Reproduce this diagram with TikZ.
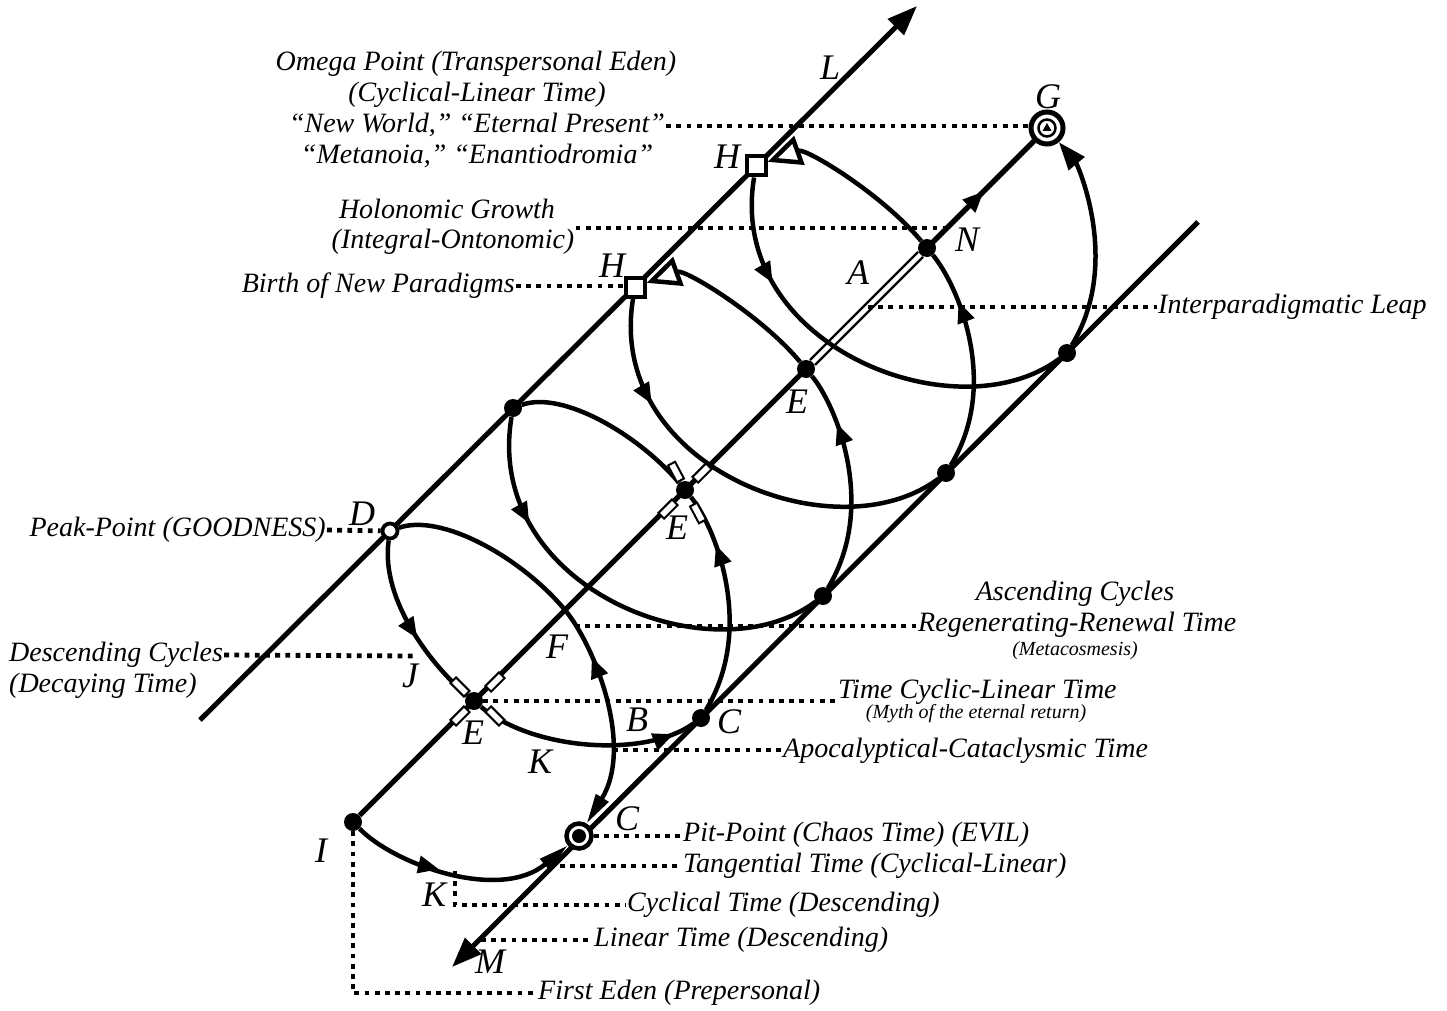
\documentclass[tikz,border=0pt]{standalone}
\usepackage{fontspec}
\setmainfont{Liberation Serif}
\usetikzlibrary{arrows.meta,calc,decorations.markings,backgrounds}

\tikzset{
  mainline/.style={line width=5pt},
  loopline/.style={line width=4.5pt},
  leader/.style={line width=4.8pt, dash pattern=on 4.8pt off 5.4pt},
  fdot/.style={circle, fill, inner sep=0pt, minimum size=18pt},
  opendot/.style={circle, draw, fill=white, line width=3.8pt, inner sep=0pt, minimum size=15pt},
  sqbox/.style={draw, fill=white, line width=4pt, inner sep=0pt, minimum size=19pt},
  bar/.style={draw, fill=white, line width=2pt, inner sep=0pt, minimum width=19pt, minimum height=8pt},
  flow/.style={postaction={decorate}, decoration={markings, mark=at position #1 with {\arrow{Triangle[length=21pt,width=17pt]}}}},
  letter/.style={font=\fontsize{36}{40}\selectfont\itshape, inner sep=0pt},
  lbl/.style={font=\fontsize{28}{31}\selectfont\itshape, text height=20pt, text depth=7pt, inner sep=1pt},
  sml/.style={font=\fontsize{20}{22}\selectfont\itshape, inner sep=1pt},
}

\begin{document}
\begin{tikzpicture}[x=1pt,y=-1pt]
\useasboundingbox (0,0) rectangle (1447,1011);

% Ends of the three lines
\coordinate (lbot) at (200,720);
\coordinate (ltop) at (917,6);
\coordinate (rtop) at (1198,222);
\coordinate (rbot) at (452,967);

% Middle line
\node[fdot] (i0) at (353,822) {};
\coordinate (m0) at (565,610);
\node[fdot] (e0) at (474,701) {};
\node[fdot] (m1) at (685,490) {};
\node[fdot] (m2) at (806,369) {};
\node[fdot] (m3) at (927,248) {};
\node[circle, draw, fill=white, line width=5pt, inner sep=0pt, minimum size=32pt] (m4) at (1047,128) {};
\node[circle, draw, line width=2.5pt, inner sep=0pt, minimum size=17pt] (m4c) at (m4) {};
\fill ($(m4)+(0,-5)$) -- ($(m4)+(4.5,3)$) -- ($(m4)+(-4.5,3)$) -- cycle;

% Left line
\node[opendot] (p0) at (390,531) {};
\node[fdot] (p1) at (513,408) {};
\node[sqbox] (p2) at (635,287) {};
\node[sqbox] (p3) at (756,166) {};

% Right line
\node[circle, draw, fill=white, line width=4.5pt, inner sep=0pt, minimum size=25pt] (r0) at (579,836) {};
\node[fdot, minimum size=14pt] (r0c) at (r0) {};
\node[fdot] (r1) at (701,718) {};
\node[fdot] (r2) at (823,596) {};
\node[fdot] (r3) at (946,473) {};
\node[fdot] (r4) at (1067,353) {};

% Bars round the two E points
\foreach \dx/\dy/\a [count=\n] in {21/-19/45, -14/15/45, -14/-14/-45, 21/15/-45}
  \node[bar, rotate=\a] (ebar\n) at ($(e0)+(\dx,\dy)$) {};
\foreach \dx/\dy/\a [count=\n] in {17/-17/45, -17/19/45, -9/-18/-62, 13/23/-62}
  \node[bar, rotate=\a] (mbar\n) at ($(m1)+(\dx,\dy)$) {};

% Leader ends
\coordinate (holo) at (947,228);
\coordinate (leap) at (868,307);
\coordinate (jpt) at (417,656);
\coordinate (asc) at (575,626);
\coordinate (apo) at (613,750);
\coordinate (tang) at (560,866);
\coordinate (cyc) at (455,871);
\coordinate (lin) at (481,940);

% Texts
\node[lbl] (om1) at (476,64) {Omega Point (Transpersonal Eden)};
\node[lbl] (om2) at (477,95) {(Cyclical-Linear Time)};
\node[lbl] (om3) at (477,126) {“New World,” “Eternal Present”};
\node[lbl] (om4) at (477,157) {“Metanoia,” “Enantiodromia”};
\node[lbl] (hol1) at (447,212) {Holonomic Growth};
\node[lbl] (hol2) at (453,242) {(Integral-Ontonomic)};
\node[lbl, anchor=east] (birth) at (516,286) {Birth of New Paradigms};
\node[lbl, anchor=west] (inter) at (1157,307) {Interparadigmatic Leap};
\node[lbl, anchor=east] (peak) at (327,530) {Peak-Point (GOODNESS)};
\node[lbl, anchor=west] (desc1) at (8,655) {Descending Cycles};
\node[lbl, anchor=west] (desc2) at (8,686) {(Decaying Time)};
\node[lbl] (asc1) at (1075,594) {Ascending Cycles};
\node[lbl, anchor=west] (asc2) at (917,625) {Regenerating-Renewal Time};
\node[sml] (asc3) at (1075,651) {(Metacosmesis)};
\node[lbl, anchor=west] (tcl) at (837,692) {Time Cyclic-Linear Time};
\node[sml] (tcl2) at (976,714) {(Myth of the eternal return)};
\node[lbl, anchor=west] (apoc) at (782,751) {Apocalyptical-Cataclysmic Time};
\node[lbl, anchor=west] (pitt) at (682,835) {Pit-Point (Chaos Time) (EVIL)};
\node[lbl, anchor=west] (tangt) at (682,866) {Tangential Time (Cyclical-Linear)};
\node[lbl, anchor=west] (cyct) at (626,905) {Cyclical Time (Descending)};
\node[lbl, anchor=west] (lint) at (593,940) {Linear Time (Descending)};
\node[lbl, anchor=west] (edent) at (537,993) {First Eden (Prepersonal)};

% Letters
\node[letter] (tL) at (830,68) {L};
\node[letter] (tG) at (1048,97) {G};
\node[letter] (tH1) at (727,157) {H};
\node[letter] (tH2) at (612,266) {H};
\node[letter] (tN) at (967,240) {N};
\node[letter] (tA) at (858,273) {A};
\node[letter] (tE3) at (797,402) {E};
\node[letter] (tE2) at (677,528) {E};
\node[letter] (tE1) at (473,733) {E};
\node[letter] (tD) at (362,514) {D};
\node[letter] (tF) at (557,647) {F};
\node[letter] (tJ) at (410,676) {J};
\node[letter] (tK1) at (540,762) {K};
\node[letter] (tB) at (637,720) {B};
\node[letter] (tC1) at (729,722) {C};
\node[letter] (tC0) at (627,819) {C};
\node[letter] (tI) at (321,851) {I};
\node[letter] (tK0) at (434,895) {K};
\node[letter] (tM) at (490,962) {M};

\begin{scope}[on background layer]
% The three lines
\draw[mainline, -{Triangle[length=30pt,width=22pt]}] (lbot) -- (ltop);
\draw[mainline, -{Triangle[length=30pt,width=22pt]}] (rtop) -- (rbot);
\draw[mainline] (i0) -- (m4);
\draw[mainline, flow=0.5] (m3) -- (m4);
\draw[line width=2.5pt, double=white, double distance=4.5pt] (m2) -- (m3);

% Descending loop
\draw[loopline, flow=0.4, -{Triangle[length=30pt,width=14pt]}] (i0) .. controls +(42,43) and +(-79,66) .. (r0);
\draw[loopline, flow=0.76, {Triangle[length=30pt,width=14pt]}-] (r0) .. controls +(55,-90) and +(30,36) .. (m0);
\draw[loopline] (m0) .. controls +(-45,-54) and +(50,-18) .. (p0);
\draw[loopline, flow=0.58] (p0) .. controls +(-10,70) and +(-40,-33) .. (e0);
\draw[loopline, flow=0.9] (e0) .. controls +(60,50) and +(-55,40) .. (r1);

% Ascending loops
\foreach \i/\j in {1/2,2/3,3/4}{
  \draw[loopline, flow=0.76] (r\i) .. controls +(55,-90) and +(30,36) .. (m\i);
  \draw[loopline, flow=0.25] (p\i) .. controls +(-30,180) and +(-110,83) .. (r\j);
}
\draw[loopline] (m1) .. controls +(-45,-54) and +(50,-18) .. (p1);
\foreach \i in {2,3}
  \draw[loopline, -{Triangle[open,fill=white,length=34pt,width=30pt]}] (m\i) .. controls +(-45,-54) and +(50,-18) .. (p\i);
\draw[loopline, -{Triangle[length=28pt,width=20pt]}] (r4) .. controls +(55,-90) and +(30,36) .. (m4);

% Leaders
\draw[leader] (om3.east) -- (om3.east -| m4.west);
\draw[leader] (holo -| hol2.east) -- (holo);
\draw[leader] (birth.east) -- (birth.east -| p2.west);
\draw[leader] (leap) -- (leap -| inter.west);
\draw[leader] (peak.east) -- (p0);
\draw[leader] (desc1.east) -- (jpt);
\draw[leader] (asc) -- (asc -| asc2.west);
\draw[leader] (e0) -- (e0 -| tcl.west);
\draw[leader] (apo) -- (apo -| apoc.west);
\draw[leader] (r0) -- (r0 -| pitt.west);
\draw[leader] (tang) -- (tang -| tangt.west);
\draw[leader] (cyc) |- (cyct.west);
\draw[leader] (lin) -- (lin -| lint.west);
\draw[leader] (i0) |- (edent.west);
\end{scope}

\end{tikzpicture}
\end{document}
